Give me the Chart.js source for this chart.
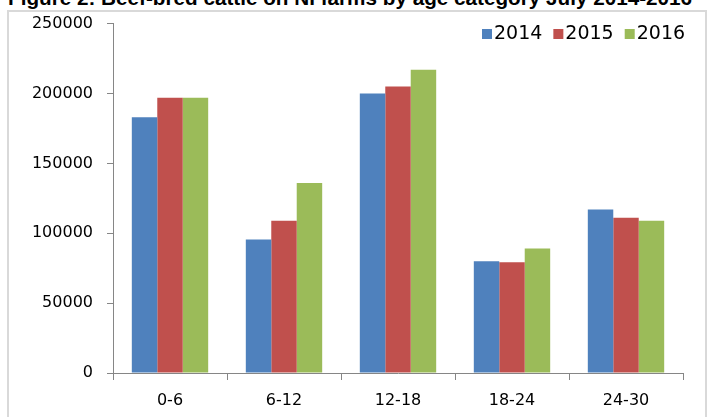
<!DOCTYPE html>
<html>
<head>
<meta charset="utf-8">
<script src="https://cdn.jsdelivr.net/npm/chart.js@4/dist/chart.umd.min.js"></script>
<style>
  html, body { margin: 0; padding: 0; background: #fff; }
  body { width: 711px; height: 417px; position: relative; overflow: hidden; }
  #title {
    position: absolute; left: 8px; top: -14px; white-space: nowrap;
    font: bold 20.7px "Liberation Sans", Arial, sans-serif; line-height: 24px; color: #000;
  }
  #frame {
    position: absolute; left: 7px; top: 10px; width: 700px; height: 420px;
    border: 2px solid #d9d9d9; box-sizing: border-box;
  }
  #wrap { position: absolute; left: 0; top: 0; width: 711px; height: 417px; }
</style>
</head>
<body>
<div id="title">Figure 2: Beef-bred cattle on NI farms by age category July 2014-2016</div>
<div id="frame"></div>
<div id="wrap"><canvas id="chart" width="711" height="417"></canvas></div>
<script>
// Age categories (months) and head counts per year
const categories = ['0-6', '6-12', '12-18', '18-24', '24-30'];
const cattle2014 = [183000, 95500, 200000, 80000, 117000];
const cattle2015 = [197000, 109000, 205000, 79300, 111000];
const cattle2016 = [197000, 136000, 217000, 89000, 109000];
const seriesLabels = ['2014', '2015', '2016'];
const yTicks = [0, 50000, 100000, 150000, 200000, 250000];

const colors = ['#4F81BD', '#C0504D', '#9BBB59'];
const axisColor = '#868686';
const tickFont = { family: '"DejaVu Sans", sans-serif', size: 16 };

// Legend drawn inside the plot area, top right
const insideLegend = {
  id: 'insideLegend',
  afterDraw(chart) {
    const ctx = chart.ctx;
    ctx.save();
    ctx.font = '19px "DejaVu Sans", sans-serif';
    ctx.textBaseline = 'middle';
    let x = 482;
    const y = 34;
    chart.data.datasets.forEach((ds) => {
      ctx.fillStyle = ds.backgroundColor;
      ctx.fillRect(x, y - 5, 10, 10);
      x += 12;
      ctx.fillStyle = '#000';
      ctx.fillText(ds.label, x, y);
      x += ctx.measureText(ds.label).width + 11;
    });
    ctx.restore();
  }
};

new Chart(document.getElementById('chart'), {
  type: 'bar',
  data: {
    labels: categories,
    datasets: [cattle2014, cattle2015, cattle2016].map((vals, i) => ({
      label: seriesLabels[i],
      data: vals,
      backgroundColor: colors[i],
      borderWidth: 0,
      categoryPercentage: 0.67,
      barPercentage: 1.0
    }))
  },
  options: {
    responsive: false,
    animation: false,
    devicePixelRatio: 1,
    layout: { padding: { left: 0, top: 22, right: 28, bottom: 0 } },
    plugins: {
      legend: { display: false },
      tooltip: { enabled: false },
      title: { display: false }
    },
    scales: {
      x: {
        offset: true,
        grid: {
          offset: true,
          drawOnChartArea: false,
          drawTicks: true,
          tickLength: 7,
          color: axisColor
        },
        border: { display: true, color: axisColor, width: 1 },
        ticks: { color: '#000', font: tickFont, padding: 11, maxRotation: 0 },
        afterFit(scale) { scale.height = 44; }
      },
      y: {
        min: 0,
        max: 250000,
        afterBuildTicks(scale) { scale.ticks = yTicks.map(v => ({ value: v })); },
        grid: {
          drawOnChartArea: false,
          drawTicks: true,
          tickLength: 6,
          color: axisColor
        },
        border: { display: true, color: axisColor, width: 1 },
        ticks: {
          color: '#000',
          font: tickFont,
          padding: 14,
          callback: (v) => String(v)
        },
        afterFit(scale) { scale.width = 113; }
      }
    }
  },
  plugins: [insideLegend]
});
</script>
</body>
</html>
